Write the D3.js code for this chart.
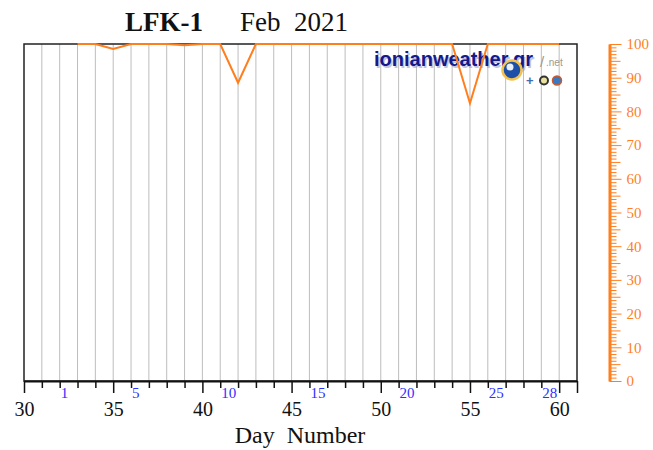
<!DOCTYPE html>
<html>
<head>
<meta charset="utf-8">
<script src="https://cdn.jsdelivr.net/npm/d3@7"></script>
<style>
  body { margin: 0; background: #fff; }
  svg { display: block; }
</style>
</head>
<body>
<script>
// day numbers (Feb 2021 = days 32..59) and relative humidity (%)
var days = [33, 34, 35, 36, 37, 38, 39, 40, 41, 42, 43, 44, 45, 46,
            47, 48, 49, 50, 51, 52, 53, 54, 55, 56, 57, 58, 59, 60];
var humidity = [100, 100, 98.5, 100, 100, 100, 99.6, 100, 100, 88.5, 100, 100, 100, 100,
                100, 100, 100, 100, 100, 100, 100, 100, 82.4, 100, 100, 100, 100, 100];

var dayTicks = d3.range(30, 62);
var monthDayLabels = [1, 5, 10, 15, 20, 25, 28];   // day of February
var rhTicks = d3.range(0, 101);

var W = 653, H = 450;
var orange = "#ff7f1f";

var svg = d3.select("body").append("svg")
  .attr("width", W)
  .attr("height", H);

var x = d3.scaleLinear().domain([30, 61]).range([24, 577]);
var y = d3.scaleLinear().domain([0, 100]).range([381, 44]);

// vertical grid, one per day
svg.append("g")
  .selectAll("line")
  .data(d3.range(31, 61))
  .enter().append("line")
  .attr("x1", d => x(d)).attr("x2", d => x(d))
  .attr("y1", y(100)).attr("y2", y(0))
  .attr("stroke", "#bdbdbd")
  .attr("stroke-width", 1);

// frame
svg.append("rect")
  .attr("x", x(30)).attr("y", y(100))
  .attr("width", x(61) - x(30))
  .attr("height", y(0) - y(100))
  .attr("fill", "none")
  .attr("stroke", "#222")
  .attr("stroke-width", 1.5);

// logo
var logo = svg.append("g");
logo.append("text")
  .attr("x", 374).attr("y", 66)
  .attr("font-family", "Liberation Sans, Arial, sans-serif")
  .attr("font-weight", "bold")
  .attr("font-size", 20)
  .attr("fill", "#9aa0c8")
  .attr("opacity", 0.6)
  .attr("transform", "translate(1.5,1.5)")
  .text("ionianweather.gr");
logo.append("text")
  .attr("x", 374).attr("y", 66)
  .attr("font-family", "Liberation Sans, Arial, sans-serif")
  .attr("font-weight", "bold")
  .attr("font-size", 20)
  .attr("fill", "#15198a")
  .text("ionianweather.gr");
logo.append("circle")
  .attr("cx", 512).attr("cy", 70).attr("r", 9.5)
  .attr("fill", "#1d4fa8")
  .attr("stroke", "#f2c14e").attr("stroke-width", 2.5);
logo.append("circle")
  .attr("cx", 510).attr("cy", 67).attr("r", 3.5)
  .attr("fill", "#e9eef8");
logo.append("text")
  .attr("x", 540).attr("y", 67)
  .attr("font-family", "Liberation Sans, Arial, sans-serif")
  .attr("font-size", 15)
  .attr("fill", "#a09a8a")
  .text("/");
logo.append("text")
  .attr("x", 546).attr("y", 66)
  .attr("font-family", "Liberation Sans, Arial, sans-serif")
  .attr("font-size", 10)
  .attr("fill", "#a09a8a")
  .text(".net");
logo.append("text")
  .attr("x", 526).attr("y", 85)
  .attr("font-family", "Liberation Sans, Arial, sans-serif")
  .attr("font-weight", "bold")
  .attr("font-size", 13)
  .attr("fill", "#3b6fb0")
  .text("+");
logo.append("circle")
  .attr("cx", 544).attr("cy", 80.5).attr("r", 4)
  .attr("fill", "#e8e2a0").attr("stroke", "#333").attr("stroke-width", 2);
logo.append("circle")
  .attr("cx", 557).attr("cy", 80.5).attr("r", 4.5)
  .attr("fill", "#3a78c4").attr("stroke", "#c95a2a").attr("stroke-width", 1.5);

// humidity line
var line = d3.line()
  .x((d, i) => x(days[i]))
  .y(d => y(d));

svg.append("path")
  .datum(humidity)
  .attr("d", line)
  .attr("fill", "none")
  .attr("stroke", orange)
  .attr("stroke-width", 2);

// bottom axis (day number)
var xAxis = d3.axisBottom(x)
  .tickValues(dayTicks)
  .tickSizeOuter(0)
  .tickFormat(d => (d % 5 === 0 && d <= 60) ? d : "");

var gx = svg.append("g")
  .attr("transform", "translate(0," + y(0) + ")")
  .call(xAxis);
gx.select(".domain").attr("stroke", "#111").attr("stroke-width", 2);
gx.selectAll(".tick line")
  .attr("stroke", "#111").attr("stroke-width", 1.5)
  .attr("y2", d => (d % 5 === 0 || d === 61) ? 12 : 7);
gx.selectAll(".tick text")
  .attr("y", 21)
  .attr("dy", 0)
  .attr("dominant-baseline", "hanging")
  .attr("font-family", "Liberation Serif, Times New Roman, serif")
  .attr("font-size", 20)
  .attr("fill", "#111");

// day-of-month labels
svg.append("g")
  .selectAll("text")
  .data(monthDayLabels)
  .enter().append("text")
  .attr("x", d => x(31 + d) + 1)
  .attr("y", 398)
  .attr("font-family", "Liberation Serif, Times New Roman, serif")
  .attr("font-size", 15)
  .attr("fill", "#2f2fff")
  .text(d => d);

// right axis (relative humidity)
var yAxis = d3.axisRight(y)
  .tickValues(rhTicks)
  .tickSizeOuter(0)
  .tickFormat(d => d % 10 === 0 ? d : "");

var gy = svg.append("g")
  .attr("transform", "translate(609.5,0)")
  .call(yAxis);
gy.select(".domain").attr("stroke", orange).attr("stroke-width", 3);
gy.selectAll(".tick line")
  .attr("stroke", orange).attr("stroke-width", 1)
  .attr("x2", d => d % 10 === 0 ? 12 : (d % 5 === 0 ? 11 : 7));
gy.selectAll(".tick text")
  .attr("x", 17)
  .attr("font-family", "Liberation Serif, Times New Roman, serif")
  .attr("font-size", 15)
  .attr("fill", orange);

// axis title
svg.append("text")
  .attr("x", 300).attr("y", 443)
  .attr("text-anchor", "middle")
  .attr("font-family", "Liberation Serif, Times New Roman, serif")
  .attr("font-size", 24)
  .attr("fill", "#111")
  .style("white-space", "pre")
  .text("Day  Number");

// title
var title = svg.append("text")
  .attr("y", 31)
  .attr("font-family", "Liberation Serif, Times New Roman, serif")
  .attr("font-size", 27)
  .attr("fill", "#111")
  .style("white-space", "pre");
title.append("tspan").attr("x", 125).attr("font-weight", "bold").text("LFK-1");
title.append("tspan").attr("x", 240).text("Feb  2021");
</script>
</body>
</html>
